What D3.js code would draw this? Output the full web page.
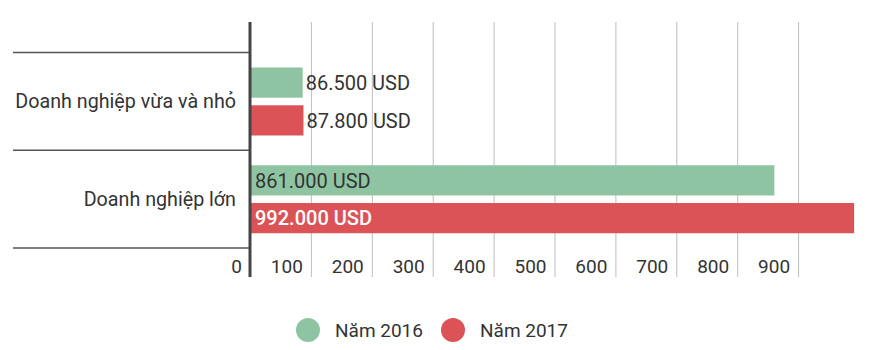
<!DOCTYPE html>
<html><head><meta charset="utf-8">
<script src="https://cdn.jsdelivr.net/npm/d3@7"></script>
<style>body{margin:0;background:#fff}text{font-family:Roboto,"Noto Sans",sans-serif}</style>
</head><body><svg id="c" width="870" height="350"></svg>
<script>
const categories = ["Doanh nghiệp vừa và nhỏ", "Doanh nghiệp lớn"];
const seriesNames = ["Năm 2016", "Năm 2017"];
const values2016 = [86500, 861000];
const values2017 = [87800, 992000];
const tickValues = [0, 100, 200, 300, 400, 500, 600, 700, 800, 900];
const colors = ["#8fc4a3", "#dc5357"];

const svg = d3.select("#c");
const fs = 19.7;
const x = d3.scaleLinear().domain([0, 1000]).range([250, 859]);
const y = d3.scaleBand().domain(categories).range([52.5, 248]);
const yi = d3.scaleBand().domain(seriesNames).range([15, 83]).paddingInner(0.2);
const loc = d3.formatLocale({decimal: ",", thousands: ".", grouping: [3], currency: ["", ""]});
const fmt = v => loc.format(",d")(v) + " USD";

// gridlines
svg.append("g").selectAll("line").data(tickValues.filter(d => d > 0)).join("line")
  .attr("x1", d => x(d) + 0.5).attr("x2", d => x(d) + 0.5)
  .attr("y1", 22).attr("y2", 277).attr("stroke", "#bdbdbd").attr("stroke-width", 1);

// tick labels
svg.append("g").selectAll("text").data(tickValues).join("text")
  .attr("x", d => x(d) - 8).attr("y", 273).attr("text-anchor", "end")
  .attr("font-size", 19).attr("fill", "#333").text(d => d);

// separators
const seps = categories.map(c => y(c)).concat([y.range()[1]]);
svg.append("g").selectAll("line").data(seps).join("line")
  .attr("x1", 13).attr("x2", 249).attr("y1", d => d).attr("y2", d => d)
  .attr("stroke", "#555").attr("stroke-width", 1.5);

// category labels
svg.append("g").selectAll("text").data(categories).join("text")
  .attr("x", 236).attr("y", d => y(d) + y.bandwidth() / 2).attr("dy", "0.36em")
  .attr("text-anchor", "end").attr("font-size", fs).attr("fill", "#333").text(d => d);

// bars
const rows = [];
categories.forEach((c, i) => {
  [values2016[i], values2017[i]].forEach((v, j) => rows.push({c, s: seriesNames[j], v, j}));
});
svg.append("g").selectAll("rect").data(rows).join("rect")
  .attr("x", x(0)).attr("y", d => y(d.c) + yi(d.s))
  .attr("width", d => x(d.v / 1000) - x(0)).attr("height", yi.bandwidth())
  .attr("fill", d => colors[d.j]);

// value labels
svg.append("g").selectAll("text").data(rows).join("text")
  .each(function(d) {
    const inside = (x(d.v / 1000) - x(0)) > 150;
    d3.select(this)
      .attr("x", inside ? x(0) + 5 : x(d.v / 1000) + 3)
      .attr("fill", inside && d.j === 1 ? "#fff" : "#333")
      .attr("font-weight", inside && d.j === 1 ? 500 : 400);
  })
  .attr("y", d => y(d.c) + yi(d.s) + yi.bandwidth() / 2).attr("dy", "0.36em")
  .attr("font-size", 20).text(d => fmt(d.v));

// axis line
svg.append("line").attr("x1", x(0)).attr("x2", x(0)).attr("y1", 22).attr("y2", 277)
  .attr("stroke", "#444").attr("stroke-width", 3);

// legend
const lx = [308, 453];
const lg = svg.append("g").selectAll("g").data(seriesNames).join("g")
  .attr("transform", (d, i) => `translate(${lx[i]},330)`);
lg.append("circle").attr("r", 12).attr("fill", (d, i) => colors[i]);
lg.append("text").attr("x", 27).attr("dy", "0.36em").attr("font-size", 19)
  .attr("fill", "#333").text(d => d);
</script></body></html>
